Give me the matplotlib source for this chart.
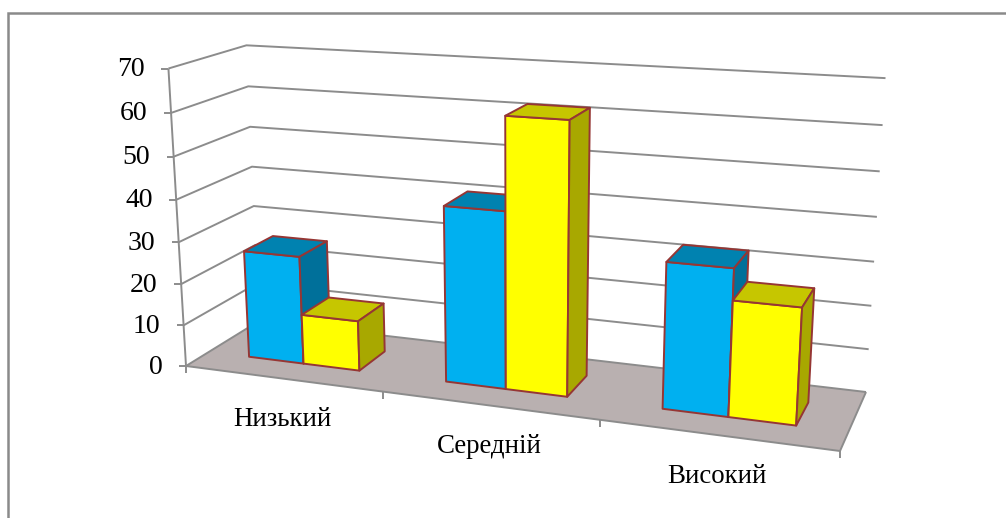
import numpy as np
import matplotlib
matplotlib.use('Agg')
import matplotlib.pyplot as plt

categories = ['Низький', 'Середній', 'Високий']
series_blue = [26, 41, 33]
series_yellow = [12, 62, 26]
value_ticks = [0, 10, 20, 30, 40, 50, 60, 70]

W, H = 1006, 518
Z_MAX = 70

# floor corners on screen: front-left, front-right, back-right, back-left
FLOOR = [(186, 366), (840, 451), (866, 392), (259, 321)]
# where three of the vertical edges reach the top value
TOP = {(0, 0): (165, 66), (0, 1): (250, 46), (1, 1): (885, 80)}

GRID = '#8c8c8c'
EDGE = '#963634'
BLUE = ('#00b0f0', '#0082b0', '#00709a')      # front, top, side
YELLOW = ('#ffff00', '#c6c600', '#a8a800')


def camera():
    # 3x4 projective matrix: floor homography plus a column for height
    src = [(0, 0), (1, 0), (1, 1), (0, 1)]
    a, b = [], []
    for (u, v), (x, y) in zip(src, FLOOR):
        a.append([u, v, 1, 0, 0, 0, -u * x, -v * x])
        a.append([0, 0, 0, u, v, 1, -u * y, -v * y])
        b += [x, y]
    h = np.append(np.linalg.solve(np.array(a, float), np.array(b, float)), 1).reshape(3, 3)
    a, b = [], []
    for (u, v), (x, y) in TOP.items():
        q = h @ np.array([u, v, 1.0])
        a.append([Z_MAX, 0, -x * Z_MAX])
        a.append([0, Z_MAX, -y * Z_MAX])
        b += [x * q[2] - q[0], y * q[2] - q[1]]
    col = np.linalg.lstsq(np.array(a, float), np.array(b, float), rcond=None)[0]
    return np.column_stack([h[:, 0], h[:, 1], col, h[:, 2]])


CAM = camera()


def project(u, v, z):
    p = CAM @ np.array([u, v, z, 1.0])
    return p[:2] / p[2]


def box(ax, u0, u1, v0, v1, val, colors):
    front = [project(u0, v0, 0), project(u1, v0, 0), project(u1, v0, val), project(u0, v0, val)]
    top = [project(u0, v0, val), project(u1, v0, val), project(u1, v1, val), project(u0, v1, val)]
    side = [project(u1, v0, 0), project(u1, v1, 0), project(u1, v1, val), project(u1, v0, val)]
    for poly, c in zip((front, top, side), colors):
        ax.fill(*zip(*poly), facecolor=c, edgecolor=EDGE, linewidth=1.4, joinstyle='round', zorder=3)


def line(ax, pts, lw=1.4):
    ax.plot(*zip(*pts), color=GRID, linewidth=lw, solid_capstyle='butt', zorder=2)


plt.rcParams['font.family'] = ['Liberation Serif', 'DejaVu Serif']

dpi = 100
fig = plt.figure(figsize=(W / dpi, H / dpi), dpi=dpi)
ax = fig.add_axes([0, 0, 1, 1])
ax.set_xlim(0, W)
ax.set_ylim(H, 0)
ax.axis('off')

# outer frame of the chart, open on the right and at the bottom
ax.plot([8.5, 8.5, W], [H, 13.3, 13.3], color='#8a8a8a', linewidth=1.8, solid_joinstyle='miter')

# floor
ax.fill(*zip(*FLOOR), facecolor='#b9b0b0', edgecolor='none', zorder=1)
line(ax, [project(0, 0, 0), project(1, 0, 0), project(1, 1, 0)])

# value axis and gridlines on the two walls
line(ax, [project(0, 0, 0), project(0, 0, Z_MAX)])
for z in value_ticks:
    p = project(0, 0, z)
    line(ax, [p, project(0, 1, z), project(1, 1, z)])
    line(ax, [p, p + (-7, 0)])
    ax.text(p[0] - 23.5, p[1] + 1, str(z), ha='right', va='center', fontsize=20, color='black')

# category axis ticks and labels
n = len(categories)
for i in range(n + 1):
    p = project(i / n, 0, 0)
    line(ax, [p, p + (0, 7)])
for i, name in enumerate(categories):
    p = project((i + 0.5) / n, 0, 0)
    ax.text(p[0], p[1] + 41, name, ha='center', va='center', fontsize=19.4, color='black')

# gap width 150% on both the category and depth directions
bar_w = (1 / n) / 3.5
for i in range(n):
    u = i / n + 0.75 * bar_w
    box(ax, u, u + bar_w, 0.3, 0.7, series_blue[i], BLUE)
    box(ax, u + bar_w, u + 2 * bar_w, 0.3, 0.7, series_yellow[i], YELLOW)

fig.savefig('out.png', dpi=dpi, facecolor='white')
